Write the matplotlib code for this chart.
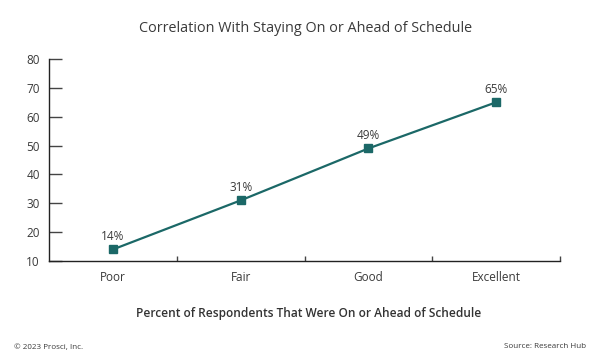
import matplotlib.pyplot as plt

categories = ['Poor', 'Fair', 'Good', 'Excellent']
values = [14, 31, 49, 65]
y_ticks = [10, 20, 30, 40, 50, 60, 70, 80]

teal = '#1b6867'
text_col = '#3a3a3a'

plt.rcParams['font.family'] = ['Open Sans', 'DejaVu Sans']

fig = plt.figure(figsize=(6.01, 3.61), dpi=100)
ax = fig.add_axes([49 / 601, 100 / 361, 511 / 601, 202 / 361])

x = list(range(len(categories)))
ax.plot(x, values, color=teal, linewidth=1.6, marker='s', markersize=5.5,
        markerfacecolor=teal, markeredgecolor=teal)
for xi, v in zip(x, values):
    ax.annotate(f'{v}%', (xi, v), xytext=(0, 4.5), textcoords='offset points',
                ha='center', va='bottom', fontsize=8.5, color=text_col)

ax.set_xlim(-0.5, len(categories) - 0.5)
ax.set_ylim(10, 80)
ax.set_yticks(y_ticks)
ax.set_xticks(x)
ax.set_xticklabels(categories)
ax.set_xticks([i + 0.5 for i in x], minor=True)

for s in ['top', 'right']:
    ax.spines[s].set_visible(False)
for s in ['left', 'bottom']:
    ax.spines[s].set_color('#222222')
    ax.spines[s].set_linewidth(1.0)

ax.tick_params(axis='y', direction='in', length=9.5, width=1, color='#444444',
               labelsize=8.5, labelcolor=text_col, pad=6.5)
ax.tick_params(axis='x', which='major', length=0, labelsize=8.5,
               labelcolor=text_col, pad=7)
ax.tick_params(axis='x', which='minor', direction='in', length=3.5, width=1,
               color='#444444')

fig.text(306 / 601, 1 - 28 / 361, 'Correlation With Staying On or Ahead of Schedule',
         ha='center', va='center', fontsize=10.4, color=text_col)
fig.text(309 / 601, 1 - 314 / 361, 'Percent of Respondents That Were On or Ahead of Schedule',
         ha='center', va='center', fontsize=8.6, color='#333333',
         fontweight='semibold')
fig.text(14 / 601, 1 - 347 / 361, '\u00a9 2023 Prosci, Inc.',
         ha='left', va='center', fontsize=5.8, color=text_col)
fig.text(586 / 601, 1 - 347 / 361, 'Source: Research Hub',
         ha='right', va='center', fontsize=5.8, color=text_col)

fig.savefig('out.png', dpi=100, facecolor='white')
